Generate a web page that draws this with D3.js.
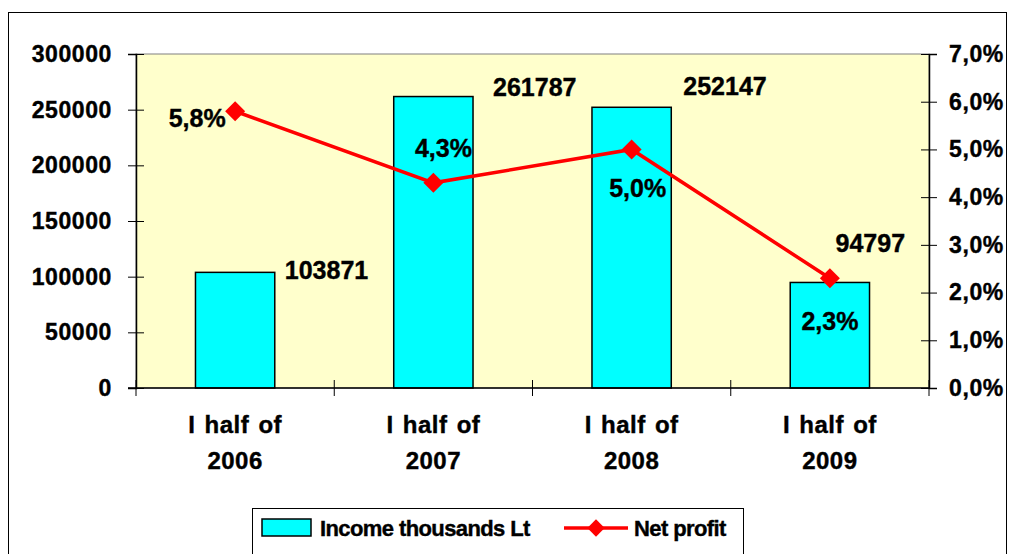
<!DOCTYPE html>
<html>
<head>
<meta charset="utf-8">
<script src="https://cdn.jsdelivr.net/npm/d3@7"></script>
<style>
    body { margin: 0; background: #fff; }
    svg text { font-family: "Liberation Sans", Arial, sans-serif; font-weight: bold; fill: #000; stroke: #000; stroke-width: 0.4px; }
    .tick text { font-size: 23px; letter-spacing: 0.6px; }
    .catLabel { font-size: 24px; letter-spacing: 0.5px; word-spacing: 2px; }
    .dataLabel { font-size: 25px; }
    .legend text { font-size: 22px; letter-spacing: -0.6px; }
</style>
</head>
<body>
<script>
// chart data
var categories = ["I half of 2006", "I half of 2007", "I half of 2008", "I half of 2009"];
var income = [103871, 261787, 252147, 94797];
var netProfit = [5.8, 4.3, 5.0, 2.3];
var incomeTicks = [0, 50000, 100000, 150000, 200000, 250000, 300000];
var profitTicks = [0, 1, 2, 3, 4, 5, 6, 7];

// label nudges (px) relative to the mark they belong to
var incomeLabelShift = [[10, 0], [20, -8], [12, -19], [-34, -37]];
var profitLabelShift = [[-38, 7], [10, -35], [6, 39], [0, 43]];

window.onload = function(){

    var w = 1011,
        h = 554;

    var plot = { left: 136, right: 929, top: 54, bottom: 388 };

    var svg = d3.select("body")
        .append("svg")
        .attr("width", w)
        .attr("height", h);

    // outer frame
    svg.append("rect")
        .attr("x", 8.5)
        .attr("y", 12.5)
        .attr("width", 998)
        .attr("height", 560)
        .style("fill", "#fff")
        .style("stroke", "#000")
        .style("stroke-width", 1);

    // plot background
    svg.append("rect")
        .attr("x", plot.left)
        .attr("y", plot.top)
        .attr("width", plot.right - plot.left)
        .attr("height", plot.bottom - plot.top)
        .style("fill", "#FFFFCC")
        .style("stroke", "#808080")
        .style("stroke-width", 1);

    // scales
    var x = d3.scaleBand()
        .domain(categories)
        .range([plot.left, plot.right])
        .padding(0);

    var yLeft = d3.scaleLinear()
        .domain([0, 300000])
        .range([plot.bottom, plot.top]);

    var yRight = d3.scaleLinear()
        .domain([0, 7])
        .range([plot.bottom, plot.top]);

    var pct = function(v){
        return d3.format(".1f")(v).replace(".", ",") + "%";
    };

    var barW = x.bandwidth() * 0.4;

    // bars
    svg.selectAll(".bar")
        .data(income)
        .enter()
        .append("rect")
        .attr("class", "bar")
        .attr("x", function(d, i){ return x(categories[i]) + (x.bandwidth() - barW) / 2; })
        .attr("y", function(d){ return yLeft(d); })
        .attr("width", barW)
        .attr("height", function(d){ return yLeft(0) - yLeft(d); })
        .style("fill", "#00FFFF")
        .style("stroke", "#000")
        .style("stroke-width", 1.5);

    // left axis
    var leftAxis = svg.append("g")
        .attr("transform", "translate(" + plot.left + ",0)")
        .call(d3.axisLeft(yLeft)
            .tickValues(incomeTicks)
            .tickSize(8)
            .tickPadding(16)
            .tickFormat(d3.format("d")));
    leftAxis.selectAll(".tick line").attr("x2", -8).attr("x1", 8);

    // right axis
    var rightAxis = svg.append("g")
        .attr("transform", "translate(" + plot.right + ",0)")
        .call(d3.axisRight(yRight)
            .tickValues(profitTicks)
            .tickSize(8)
            .tickPadding(12)
            .tickFormat(pct));
    rightAxis.selectAll(".tick line").attr("x1", -8).attr("x2", 8);

    // bottom axis with ticks at category borders
    var bottom = svg.append("g");
    bottom.append("line")
        .attr("x1", plot.left - 8)
        .attr("x2", plot.right)
        .attr("y1", plot.bottom)
        .attr("y2", plot.bottom)
        .style("stroke", "#000")
        .style("stroke-width", 1.5);
    var borders = categories.map(function(c){ return x(c); }).concat([plot.right]);
    bottom.selectAll(".xtick")
        .data(borders)
        .enter()
        .append("line")
        .attr("x1", function(d){ return d; })
        .attr("x2", function(d){ return d; })
        .attr("y1", plot.bottom - 8)
        .attr("y2", plot.bottom + 8)
        .style("stroke", "#000");

    svg.selectAll(".domain")
        .style("stroke", "#000")
        .style("stroke-width", 1.5);
    svg.selectAll(".tick line").style("stroke", "#000");

    // category labels, two lines
    var catLabels = svg.selectAll(".catLabel")
        .data(categories)
        .enter()
        .append("text")
        .attr("class", "catLabel")
        .attr("text-anchor", "middle");
    catLabels.append("tspan")
        .attr("x", function(d){ return x(d) + x.bandwidth() / 2; })
        .attr("y", 433)
        .text(function(d){ return d.slice(0, 9); });
    catLabels.append("tspan")
        .attr("x", function(d){ return x(d) + x.bandwidth() / 2; })
        .attr("y", 469)
        .text(function(d){ return d.slice(10); });

    // profit line
    var cx = function(i){ return x(categories[i]) + x.bandwidth() / 2; };
    var line = d3.line()
        .x(function(d, i){ return cx(i); })
        .y(function(d){ return yRight(d); });

    svg.append("path")
        .datum(netProfit)
        .attr("d", line)
        .style("fill", "none")
        .style("stroke", "#FF0000")
        .style("stroke-width", 3.5);

    var diamond = d3.symbol().type(d3.symbolSquare).size(200);
    svg.selectAll(".marker")
        .data(netProfit)
        .enter()
        .append("path")
        .attr("class", "marker")
        .attr("d", diamond)
        .attr("transform", function(d, i){
            return "translate(" + cx(i) + "," + yRight(d) + ") rotate(45)";
        })
        .style("fill", "#FF0000");

    // income labels
    svg.selectAll(".incLabel")
        .data(income)
        .enter()
        .append("text")
        .attr("class", "dataLabel")
        .attr("x", function(d, i){ return cx(i) + barW / 2 + incomeLabelShift[i][0]; })
        .attr("y", function(d, i){ return yLeft(d) + 7 + incomeLabelShift[i][1]; })
        .text(function(d){ return d; });

    // profit labels
    svg.selectAll(".pLabel")
        .data(netProfit)
        .enter()
        .append("text")
        .attr("class", "dataLabel")
        .attr("text-anchor", "middle")
        .attr("x", function(d, i){ return cx(i) + profitLabelShift[i][0]; })
        .attr("y", function(d, i){ return yRight(d) + 9 + profitLabelShift[i][1]; })
        .text(function(d){ return pct(d); });

    // legend
    var legend = svg.append("g").attr("class", "legend");
    legend.append("rect")
        .attr("x", 252.5)
        .attr("y", 508.5)
        .attr("width", 491)
        .attr("height", 60)
        .style("fill", "#fff")
        .style("stroke", "#000");
    legend.append("rect")
        .attr("x", 262)
        .attr("y", 519)
        .attr("width", 49)
        .attr("height", 17)
        .style("fill", "#00FFFF")
        .style("stroke", "#000")
        .style("stroke-width", 1.5);
    legend.append("text")
        .attr("x", 320)
        .attr("y", 536)
        .text("Income thousands Lt");
    legend.append("line")
        .attr("x1", 564)
        .attr("x2", 628)
        .attr("y1", 528)
        .attr("y2", 528)
        .style("stroke", "#FF0000")
        .style("stroke-width", 3.5);
    legend.append("path")
        .attr("d", d3.symbol().type(d3.symbolSquare).size(150))
        .attr("transform", "translate(596,528) rotate(45)")
        .style("fill", "#FF0000");
    legend.append("text")
        .attr("x", 634)
        .attr("y", 536)
        .text("Net profit");
};
</script>
</body>
</html>
